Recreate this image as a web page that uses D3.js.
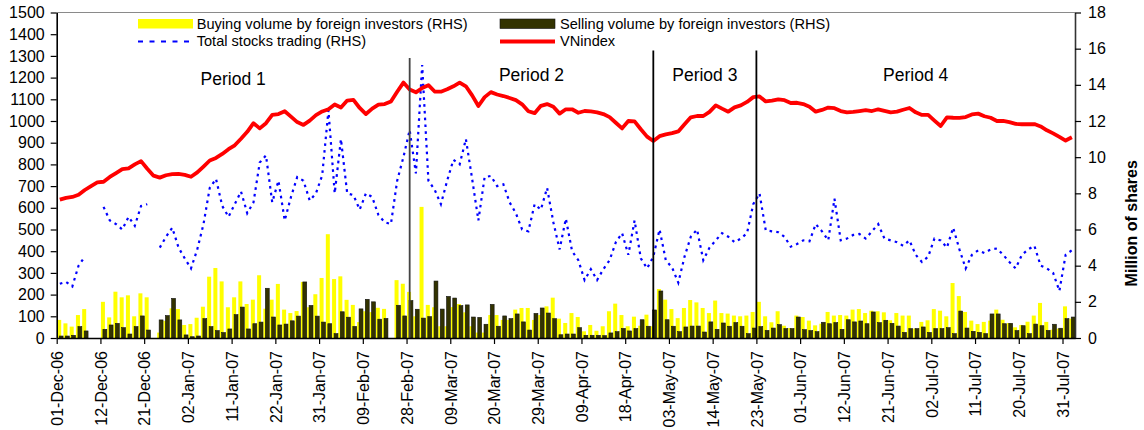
<!DOCTYPE html>
<html>
<head>
<meta charset="utf-8">
<script src="https://cdn.jsdelivr.net/npm/d3@7"></script>
<style>
  body { margin: 0; background: #fff; }
  svg text { font-family: "Liberation Sans", Arial, sans-serif; }
</style>
</head>
<body>
<div id="chart"></div>
<script>
// foreign investors trading vs VNindex, Dec-06 ~ Jul-07
// one value per trading day (163 days), null = no data that day

// x axis labels, one every 7 trading days
const tickLabels = ["01-Dec-06", "12-Dec-06", "21-Dec-06", "02-Jan-07", "11-Jan-07", "22-Jan-07",
    "31-Jan-07", "09-Feb-07", "28-Feb-07", "09-Mar-07", "20-Mar-07", "29-Mar-07", "09-Apr-07",
    "18-Apr-07", "03-May-07", "14-May-07", "23-May-07", "01-Jun-07", "12-Jun-07", "21-Jun-07",
    "02-Jul-07", "11-Jul-07", "20-Jul-07", "31-Jul-07"];
const tickDays = [0, 7, 14, 21, 28, 35, 42, 49, 56, 63, 70, 77, 84, 91, 98, 105, 112, 119, 126, 133, 140, 147, 154, 161];

// VNindex (LHS)
const vnIndex = [638, 646, 650, 660, 682, 700, 717, 720, 742, 760, 778, 782, 800, 815, 780, 748, 739, 750, 755, 756,
    752, 743, 763, 790, 818, 830, 848, 870, 888, 918, 950, 990, 966, 990, 1028, 1032, 1045, 1020, 995, 982,
    1002, 1027, 1044, 1054, 1076, 1062, 1094, 1097, 1060, 1032, 1057, 1075, 1078, 1090, 1135, 1177, 1145, 1132, 1152, 1165,
    1136, 1135, 1146, 1160, 1177, 1160, 1118, 1069, 1110, 1133, 1122, 1115, 1106, 1096, 1077, 1045, 1036, 1070, 1078, 1066,
    1034, 1054, 1054, 1038, 1046, 1044, 1040, 1032, 1018, 992, 966, 1000, 998, 962, 928, 908, 930, 938, 944, 952,
    985, 1017, 1023, 1023, 1042, 1072, 1057, 1043, 1063, 1072, 1088, 1110, 1113, 1090, 1094, 1100, 1096, 1083, 1084, 1078,
    1066, 1043, 1051, 1062, 1059, 1046, 1040, 1042, 1046, 1050, 1046, 1054, 1047, 1040, 1043, 1052, 1060, 1040, 1028, 1028,
    1002, 977, 1017, 1015, 1014, 1018, 1030, 1034, 1022, 1015, 1000, 1001, 995, 987, 985, 985, 986, 975, 957, 943,
    927, 910, 925];

// total stocks trading, million shares (RHS)
const totalTrading = [3.0, 3.1, 2.85, 4.0, 4.5, null, null, 7.25, 6.5, 6.3, 6.0, 6.7, 6.2, 7.3, 7.4, null, 5.0, 5.6, 6.1, 5.0,
    4.4, 3.85, 4.9, 6.3, 8.3, 8.8, 7.3, 6.7, 7.4, 8.1, 6.9, 7.5, 9.7, 10.1, 7.5, 8.7, 6.5, 7.8, 8.9, 8.7,
    7.6, 8.0, 9.0, 12.6, 8.0, 11.0, 8.0, 7.9, 7.1, 8.0, 7.8, 6.8, 6.4, 6.3, 8.7, 10.0, 11.5, 9.1, 15.1, 8.7,
    8.2, 7.4, 8.7, 9.85, 9.6, 11.0, 8.8, 6.5, 8.9, 8.96, 8.4, 8.5, 7.5, 6.9, 6.0, 5.9, 7.4, 7.1, 8.3, 6.4,
    4.9, 6.6, 4.8, 4.3, 3.2, 3.8, 3.2, 3.8, 4.3, 5.3, 5.8, 4.6, 6.5, 4.4, 3.85, 4.5, 6.0, 4.3, 3.9, 3.06,
    4.5, 5.6, 6.0, 4.3, 5.0, 5.4, 5.8, 5.6, 5.3, 5.5, 5.8, 7.4, 8.0, 5.95, 5.9, 5.85, 5.6, 5.05, 5.2, 5.4,
    5.35, 6.3, 5.9, 5.4, 7.7, 5.4, 5.5, 5.7, 5.75, 5.5, 5.9, 6.3, 5.5, 5.4, 5.3, 5.1, 5.4, 4.6, 4.2, 4.5,
    5.5, 5.4, 5.0, 6.1, 4.9, 3.85, 4.6, 4.85, 4.7, 4.9, 4.95, 4.6, 4.2, 3.85, 4.6, 4.9, 5.1, 4.0, 3.85, 3.6,
    2.6, 4.6, 4.85];

// buying volume by foreign investors, million shares (RHS)
const buyVolume = [1.0, 0.81, 0.63, 1.27, 1.6, null, null, 2.0, 1.14, 2.56, 2.25, 2.36, 1.2, 2.47, 2.25, null, 0.3, 0.95, 1.64, 1.6,
    0.72, 0.77, 1.12, 1.73, 3.39, 3.87, 3.13, 1.7, 2.25, 3.13, 1.88, 2.12, 3.47, 1.62, 2.12, 2.99, 1.57, 1.38, 1.49, 3.1,
    1.7, 2.42, 3.32, 5.74, 3.26, 3.41, 2.11, 1.83, 0.88, 1.48, 1.43, 1.67, 1.61, null, 3.2, 3.0, 2.55, 1.2, 7.25, 1.83,
    1.7, 0.65, 0.65, 1.71, 1.88, 1.42, 0.65, 0.3, 0.3, 1.27, 1.27, 1.0, 1.0, 1.57, 1.66, 1.66, 1.0, 1.27, 1.75, 2.23,
    1.07, 0.83, 1.38, 1.16, 0.37, 0.72, 0.4, 0.65, 1.48, 1.9, 1.27, 0.65, 1.18, 0.68, 1.29, 0.65, 2.71, 2.12, 1.6, 1.1,
    1.66, 2.1, 1.97, 1.66, 1.38, 2.07, 1.38, 1.35, 1.24, 1.2, 1.24, 1.44, 2.0, 1.2, 0.87, 1.48, 0.68, 0.55, 1.24, 1.16,
    0.96, 0.7, 0.79, 1.44, 1.24, 1.27, 1.24, 1.57, 1.6, 1.38, 1.51, 1.48, 1.42, 0.98, 1.38, 1.24, 1.24, 0.52, 0.89, 0.98,
    1.6, 1.51, 1.2, 3.04, 2.32, 1.44, 0.96, 0.77, 0.89, 0.96, 1.57, 1.01, 0.83, 0.59, 0.72, 0.9, 1.24, 1.94, 0.89, 0.46,
    0.52, 1.75, 1.07];

// selling volume by foreign investors, million shares (RHS)
const sellVolume = [0.11, 0.11, 0.15, 0.63, 0.39, null, null, 0.48, 0.72, 0.81, 0.57, 0.22, 0.63, 1.22, 0.44, null, 1.0, 1.24, 2.19, 1.0,
    0.17, 0.07, 0.11, 1.07, 0.63, 0.41, 0.3, 0.5, 1.29, 1.71, 0.5, 0.79, 0.88, 2.75, 1.16, 0.72, 0.77, 0.95, 1.21, 3.1,
    1.8, 1.21, 0.88, 0.79, 0.24, 1.45, 1.15, 0.64, 1.61, 2.14, 2.0, 1.04, 1.08, null, 1.81, 1.22, 2.07, 1.59, 1.1, 1.18,
    3.15, 1.6, 2.3, 2.21, 1.79, 1.83, 1.16, 1.14, 0.76, 1.86, 0.65, 1.22, 1.07, 1.33, 0.89, 0.44, 1.36, 1.66, 1.38, 1.07,
    0.18, 0.22, 0.22, 0.57, 0.15, 0.15, 0.15, 0.13, 0.28, 0.35, 0.53, 0.39, 0.52, 1.01, 0.65, 1.55, 2.6, 1.01, 0.65, 0.35,
    0.61, 0.66, 0.66, 0.33, 0.89, 0.48, 0.83, 0.65, 0.85, 0.65, 0.24, 0.55, 0.63, 0.42, 0.55, 0.74, 0.52, 0.52, 1.16, 0.46,
    0.41, 0.35, 0.87, 0.79, 0.85, 0.48, 1.01, 0.89, 0.94, 0.79, 1.44, 0.85, 0.98, 0.81, 0.66, 0.31, 0.52, 0.52, 0.61, 0.31,
    0.52, 0.52, 0.57, 0.24, 1.49, 0.55, 0.37, 0.31, 0.24, 1.33, 1.33, 0.79, 0.81, 0.41, 0.68, 0.24, 0.77, 0.68, 0.42, 0.76,
    0.54, 1.07, 1.16];

// period boundaries (in trading days) and labels
const periodBreaks = [56.5, 95.5, 112];
const periodLabels = ["Period 1", "Period 2", "Period 3", "Period 4"];

const nDays = vnIndex.length;

// dimensions
const width = 1144, height = 430;
const plot = {left: 56.7, right: 1075, top: 12.5, bottom: 338};

const svg = d3.select("#chart")
    .append("svg")
    .attr("width", width)
    .attr("height", height);

svg.append("rect").attr("width", width).attr("height", height).attr("fill", "#fff");

// scales
const x = d3.scaleLinear().domain([0, nDays]).range([plot.left, plot.right]);
const yL = d3.scaleLinear().domain([0, 1500]).range([plot.bottom, plot.top]);
const yR = d3.scaleLinear().domain([0, 18]).range([plot.bottom, plot.top]);
const step = x(1) - x(0);

// top border of the plot area
svg.append("line")
    .attr("x1", plot.left).attr("x2", plot.right)
    .attr("y1", plot.top).attr("y2", plot.top)
    .attr("stroke", "#8a8a8a").attr("stroke-width", 1.2);

// bars: buying first, selling overlapping on top
svg.append("g").selectAll("rect")
    .data(buyVolume.map((v, i) => ({i: i, v: v})).filter(d => d.v != null))
    .join("rect")
    .attr("x", d => x(d.i) + step * 0.08)
    .attr("width", step * 0.64)
    .attr("y", d => yR(d.v))
    .attr("height", d => yR(0) - yR(d.v))
    .attr("fill", "#ffff00");

svg.append("g").selectAll("rect")
    .data(sellVolume.map((v, i) => ({i: i, v: v})).filter(d => d.v != null))
    .join("rect")
    .attr("x", d => x(d.i) + step * 0.4)
    .attr("width", step * 0.62)
    .attr("y", d => yR(d.v))
    .attr("height", d => yR(0) - yR(d.v))
    .attr("fill", "#333300")
    .attr("stroke", "#111")
    .attr("stroke-width", 0.6);

// total trading, dotted
const lineR = d3.line()
    .defined(d => d != null)
    .x((d, i) => x(i + 0.5))
    .y(d => yR(d));

svg.append("path")
    .datum(totalTrading)
    .attr("d", lineR)
    .attr("fill", "none")
    .attr("stroke", "#0000ff")
    .attr("stroke-width", 2.2)
    .attr("stroke-dasharray", "2.6,4.2");

// VNindex
const lineL = d3.line()
    .x((d, i) => x(i + 0.5))
    .y(d => yL(d));

svg.append("path")
    .datum(vnIndex)
    .attr("d", lineL)
    .attr("fill", "none")
    .attr("stroke", "#ff0000")
    .attr("stroke-width", 3.8)
    .attr("stroke-linejoin", "round");

// period separators
svg.append("g").selectAll("line")
    .data(periodBreaks)
    .join("line")
    .attr("x1", d => x(d)).attr("x2", d => x(d))
    .attr("y1", (d, i) => i == 0 ? yL(1290) : yL(1325))
    .attr("y2", yL(0))
    .attr("stroke", (d, i) => i == 0 ? "#444" : "#000")
    .attr("stroke-width", 1.8);

// period labels, centred between the separators
const edges = [0].concat(periodBreaks, [nDays]);
svg.append("g").selectAll("text")
    .data(periodLabels)
    .join("text")
    .attr("x", (d, i) => x((edges[i] + edges[i + 1]) / 2))
    .attr("y", (d, i) => i == 0 ? yL(1166) : yL(1183))
    .attr("text-anchor", "middle")
    .attr("font-size", "17.5px")
    .attr("fill", "#000")
    .text(d => d);

// left axis
const axL = svg.append("g")
    .attr("transform", `translate(${plot.left},0)`)
    .call(d3.axisLeft(yL).tickValues(d3.range(0, 1501, 100)).tickFormat(d3.format("d"))
        .tickSize(6).tickPadding(6).tickSizeOuter(0));

// right axis
const axR = svg.append("g")
    .attr("transform", `translate(${plot.right},0)`)
    .call(d3.axisRight(yR).tickValues(d3.range(0, 19, 2)).tickFormat(d3.format("d"))
        .tickSize(6).tickPadding(7).tickSizeOuter(0));

// bottom axis, ticks on the day boundaries
const axB = svg.append("g")
    .attr("transform", `translate(0,${plot.bottom})`)
    .call(d3.axisBottom(x).tickValues(tickDays).tickSize(6).tickSizeOuter(0)
        .tickFormat((d, i) => tickLabels[i]));

[axL, axR, axB].forEach(function(ax) {
    ax.select(".domain").attr("stroke", "#000").attr("stroke-width", 1.6);
    ax.selectAll(".tick line").attr("stroke", "#000").attr("stroke-width", 1.2);
    ax.selectAll("text").attr("font-size", "16px").attr("fill", "#000")
        .style("font-family", "'Liberation Sans', Arial, sans-serif");
});
axR.select(".domain").attr("stroke", "#333");

axB.selectAll(".tick text")
    .attr("transform", "rotate(-90)")
    .attr("text-anchor", "end")
    .attr("x", -13)
    .attr("y", 0)
    .attr("dy", "0.36em");

// right axis title
svg.append("text")
    .attr("transform", `translate(1137,${(plot.top + plot.bottom) / 2 + 48}) rotate(-90)`)
    .attr("text-anchor", "middle")
    .attr("font-size", "16px")
    .attr("font-weight", "bold")
    .text("Million of shares");

// legend
const legend = [
    {name: "Buying volume by foreign investors (RHS)", kind: "bar", color: "#ffff00", col: 0, row: 0},
    {name: "Selling volume by foreign investors (RHS)", kind: "bar", color: "#333300", col: 1, row: 0},
    {name: "Total stocks trading (RHS)", kind: "dot", color: "#0000ff", col: 0, row: 1},
    {name: "VNindex", kind: "line", color: "#ff0000", col: 1, row: 1}
];

const lg = svg.append("g").selectAll("g")
    .data(legend)
    .join("g")
    .attr("transform", d => `translate(${d.col == 0 ? 138 : 500},${d.row == 0 ? 19 : 36})`);

lg.filter(d => d.kind == "bar").append("rect")
    .attr("width", 55).attr("height", 9.5)
    .attr("fill", d => d.color)
    .attr("stroke", d => d.color == "#333300" ? "#111" : "none")
    .attr("stroke-width", 0.6);

lg.filter(d => d.kind != "bar").append("line")
    .attr("x1", 0).attr("x2", 55).attr("y1", 5.5).attr("y2", 5.5)
    .attr("stroke", d => d.color)
    .attr("stroke-width", d => d.kind == "dot" ? 2.2 : 3.8)
    .attr("stroke-dasharray", d => d.kind == "dot" ? "5,6.5" : null);

lg.append("text")
    .attr("x", d => d.col == 0 ? 58.7 : 60)
    .attr("y", 10.3)
    .attr("font-size", "14.6px")
    .attr("fill", "#000")
    .text(d => d.name);
</script>
</body>
</html>
